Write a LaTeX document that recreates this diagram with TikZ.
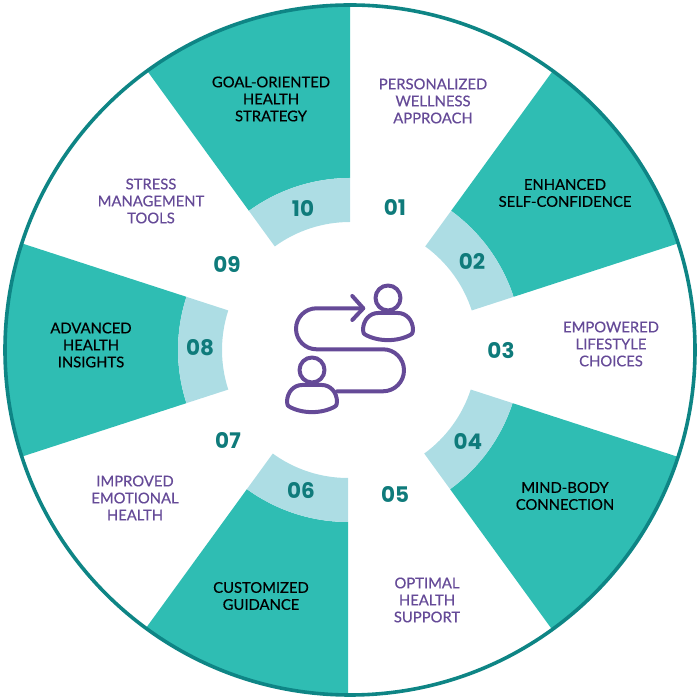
\documentclass[tikz,border=0pt]{standalone}
\usepackage{fontspec}
\setmainfont{Lato}
\newfontfamily\labelfont[FakeBold=0.45]{Lato}
\newfontfamily\numfont{Poppins}
\usepackage{xcolor}
\definecolor{wedgeteal}{HTML}{2FBDB3}
\definecolor{bandblue}{HTML}{ADDDE4}
\definecolor{rimteal}{HTML}{0E8585}
\definecolor{numteal}{HTML}{0F7B7B}
\definecolor{iconpurple}{HTML}{654A97}
\newcommand{\ringpart}[5]{([shift={(#2:#4)}]#1) arc[start angle=#2,end angle=#3,radius=#4] -- ([shift={(#3:#5)}]#1) arc[start angle=#3,end angle=#2,radius=#5] -- cycle}

\begin{document}
\begin{tikzpicture}[x=1pt,y=1pt,
		teallabel/.style={
			% The shape:
			align=center,inner sep=0pt,
			% The rest
			text=black,font=\fontsize{14.8}{17}\selectfont\labelfont},
		purplelabel/.style={teallabel,text=iconpurple},
		numlabel/.style={inner sep=0pt,text=numteal,font=\fontsize{21.5}{23}\selectfont\numfont\bfseries},
		iconline/.style={draw=iconpurple,line width=4pt,line cap=round,line join=round},
		person/.pic={
			\draw[iconline] (0,0) circle[radius=12.5];
			\draw[iconline] (-10,-15) -- (10,-15) .. controls (18,-15) and (25,-22) .. (25,-32)
				.. controls (25,-35) and (24,-36) .. (23,-36.5) .. controls (10,-44) and (-10,-44) .. (-23,-36.5)
				.. controls (-24,-36) and (-25,-35) .. (-25,-32) .. controls (-25,-22) and (-18,-15) .. (-10,-15) -- cycle;
		}]
		\useasboundingbox (0,0) rectangle (700,700);
		\coordinate (c) at (350,350);
		\coordinate (c_r) at (349,350);
		\coordinate (c_l) at (348,350);
		
		% wedges
		\fill[wedgeteal] \ringpart{c}{90}{126}{172}{345};
		\fill[wedgeteal] \ringpart{c}{18}{54}{172}{345};
		\fill[wedgeteal] \ringpart{c_r}{-54}{-18}{172}{345};
		\fill[wedgeteal] \ringpart{c_l}{-126}{-90}{172}{345};
		\fill[wedgeteal] \ringpart{c}{162}{198}{172}{345};
		\fill[bandblue] \ringpart{c}{90}{126}{128}{172};
		\fill[bandblue] \ringpart{c}{18}{54}{128}{172};
		\fill[bandblue] \ringpart{c_r}{-54}{-18}{128}{172};
		\fill[bandblue] \ringpart{c_l}{-126}{-90}{128}{172};
		\fill[bandblue] \ringpart{c}{162}{198}{128}{172};
		\draw[rimteal,line width=3.6pt] (c) circle[radius=345];
		
		% labels
		\node (l_goal)	[teallabel] at (271,601) {GOAL-ORIENTED\\HEALTH\\STRATEGY};
		\node (l_pers)	[purplelabel] at (433,599) {PERSONALIZED\\WELLNESS\\APPROACH};
		\node (l_self)	[teallabel] at (565,507) {ENHANCED\\SELF-CONFIDENCE};
		\node (l_life)	[purplelabel] at (611,356) {EMPOWERED\\LIFESTYLE\\CHOICES};
		\node (l_mind)	[teallabel] at (565,204) {MIND-BODY\\CONNECTION};
		\node (l_supp)	[purplelabel] at (427,100) {OPTIMAL\\HEALTH\\SUPPORT};
		\node (l_guid)	[teallabel] at (261,104) {CUSTOMIZED\\GUIDANCE};
		\node (l_emot)	[purplelabel] at (135,202) {IMPROVED\\EMOTIONAL\\HEALTH};
		\node (l_insi)	[teallabel] at (91,355) {ADVANCED\\HEALTH\\INSIGHTS};
		\node (l_stre)	[purplelabel] at (151,499) {STRESS\\MANAGEMENT\\TOOLS};
		
		% numbers
		\node (n_01)	[numlabel] at (395,492) {01};
		\node (n_02)	[numlabel] at (472,439) {02};
		\node (n_03)	[numlabel] at (501,349) {03};
		\node (n_04)	[numlabel] at (468,259) {04};
		\node (n_05)	[numlabel] at (395,206) {05};
		\node (n_06)	[numlabel] at (301,209) {06};
		\node (n_07)	[numlabel] at (228,260) {07};
		\node (n_08)	[numlabel] at (200,352) {08};
		\node (n_09)	[numlabel] at (227,435) {09};
		\node (n_10)	[numlabel] at (303,491) {10};
		
		% icon
		\pic at (388,402) {person};
		\pic at (312,330) {person};
		\draw[iconline] (363.3,391.7) -- (316.5,391.7) arc[start angle=90,end angle=270,radius=20.5]
			-- (383,350.7) arc[start angle=90,end angle=-90,radius=21] -- (337,308.7);
		\draw[iconline] (352.3,404) -- (363.3,391.7) -- (352.3,380);
	\end{tikzpicture}
\end{document}
